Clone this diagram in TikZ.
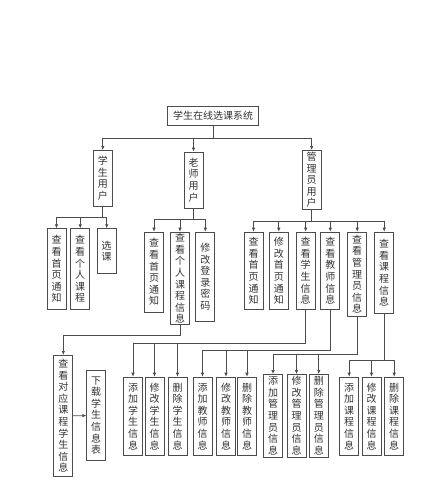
\documentclass[tikz,border=0pt]{standalone}
\usepackage{fontspec}
\setmainfont{Noto Sans CJK SC}
\XeTeXlinebreaklocale "zh"
\XeTeXlinebreakskip=0pt plus 1pt
\usetikzlibrary{arrows.meta}

\begin{document}
\begin{tikzpicture}[x=1pt,y=-1pt]
    \tikzstyle{titlebox}=[rectangle,draw=black!70,line width=0.7pt,text=black!80,font=\fontsize{10}{11.6}\selectfont,inner sep=0pt,minimum width=91pt,minimum height=19.5pt]
    \tikzstyle{itembox}=[rectangle,draw=black!70,line width=0.7pt,text=black!80,font=\fontsize{10}{11.6}\selectfont,text width=11pt,align=center,inner xsep=4pt,inner ysep=1.2pt,anchor=north]
    \tikzstyle{link}=[draw=black!70,line width=0.7pt,-{Latex[length=4pt,width=3.5pt]}]
    \useasboundingbox (0,0) rectangle (427,500);

    \node (sys)[titlebox] at (213,116) {学生在线选课系统};

    \node (stu)[itembox,minimum height=55.5pt] at (102.8,150) {学生用户};
    \node (tea)[itembox,minimum height=56pt] at (193.5,151.5) {老师用户};
    \node (adm)[itembox,minimum height=59.3pt] at (311.7,150) {管理员用户};

    \node (stuNotice)[itembox,minimum height=80.7pt] at (56.5,228.3) {查看首页通知};
    \node (stuCourse)[itembox,minimum height=80.7pt] at (80.2,228.3) {查看个人课程};
    \node (stuSelect)[itembox,minimum height=45pt] at (106.7,228.3) {选课};

    \node (teaNotice)[itembox,minimum height=80pt] at (154,231.7) {查看首页通知};
    \node (teaCourse)[itembox,minimum height=92.6pt] at (180,231.7) {查看个人课程信息};
    \node (teaPwd)[itembox,minimum height=89.3pt] at (205.3,231.7) {修改登录密码};

    \node (admNotice)[itembox,minimum height=77.6pt] at (253.5,231.7) {查看首页通知};
    \node (admEdit)[itembox,minimum height=77.6pt] at (278.8,231.7) {修改首页通知};
    \node (admStu)[itembox,minimum height=77.6pt] at (305.7,231.7) {查看学生信息};
    \node (admTea)[itembox,minimum height=77.6pt] at (330.3,231.7) {查看教师信息};
    \node (admAdm)[itembox,minimum height=84.3pt] at (357.2,231.7) {查看管理员信息};
    \node (admCourse)[itembox,minimum height=81.6pt] at (384.2,231.7) {查看课程信息};

    \node (listStu)[itembox,minimum height=121pt] at (63.3,355) {查看对应课程学生信息};
    \node (download)[itembox,minimum height=89.7pt,anchor=center] at (96.2,415.5) {下载学生信息表};

    \node (addStu)[itembox,minimum height=78.3pt] at (133,376.7) {添加学生信息};
    \node (modStu)[itembox,minimum height=78.3pt] at (154.5,376.7) {修改学生信息};
    \node (delStu)[itembox,minimum height=78.3pt] at (177.5,376.7) {删除学生信息};
    \node (addTea)[itembox,minimum height=78.3pt] at (202.5,376.7) {添加教师信息};
    \node (modTea)[itembox,minimum height=78.3pt] at (226,376.7) {修改教师信息};
    \node (delTea)[itembox,minimum height=78.3pt] at (247,376.7) {删除教师信息};
    \node (addAdm)[itembox,minimum height=82.7pt] at (273,374) {添加管理员信息};
    \node (modAdm)[itembox,minimum height=82.7pt] at (296.5,374) {修改管理员信息};
    \node (delAdm)[itembox,minimum height=82.7pt] at (318.8,374) {删除管理员信息};
    \node (addCrs)[itembox,minimum height=78.3pt] at (349.2,376.7) {添加课程信息};
    \node (modCrs)[itembox,minimum height=78.3pt] at (371.5,376.7) {修改课程信息};
    \node (delCrs)[itembox,minimum height=78.3pt] at (394.2,376.7) {删除课程信息};

    % system -> user roles
    \draw[link] (sys.south) -- ++(0,12) -| (stu.north);
    \draw[link] (sys.south) -- ++(0,12) -| (tea.north);
    \draw[link] (sys.south) -- ++(0,12) -| (adm.north);

    % student user
    \draw[link] (stu.south) -- ++(0,11) -| (stuNotice.north);
    \draw[link] (stu.south) -- ++(0,11) -| (stuCourse.north);
    \draw[link] (stu.south) -- ++(0,11) -| (stuSelect.north);

    % teacher user
    \draw[link] (tea.south) -- ++(0,11) -| (teaNotice.north);
    \draw[link] (tea.south) -- ++(0,11) -| (teaCourse.north);
    \draw[link] (tea.south) -- ++(0,11) -| (teaPwd.north);
    \draw[link] (teaCourse.south) -- ++(0,10) -| (listStu.north);
    \draw[link] (listStu) -- (download);

    % admin user
    \draw[link] (adm.south) -- ++(0,11.2) -| (admNotice.north);
    \draw[link] (adm.south) -- ++(0,11.2) -| (admEdit.north);
    \draw[link] (adm.south) -- ++(0,11.2) -| (admStu.north);
    \draw[link] (adm.south) -- ++(0,11.2) -| (admTea.north);
    \draw[link] (adm.south) -- ++(0,11.2) -| (admAdm.north);
    \draw[link] (adm.south) -- ++(0,11.2) -| (admCourse.north);

    \draw[link] (admStu.south) -- ++(0,33.4) -| (addStu.north);
    \draw[link] (admStu.south) -- ++(0,33.4) -| (modStu.north);
    \draw[link] (admStu.south) -- ++(0,33.4) -| (delStu.north);

    \draw[link] (admTea.south) -- ++(0,40) -| (addTea.north);
    \draw[link] (admTea.south) -- ++(0,40) -| (modTea.north);
    \draw[link] (admTea.south) -- ++(0,40) -| (delTea.north);

    \draw[link] (admAdm.south) -- ++(0,37.7) -| (addAdm.north);
    \draw[link] (admAdm.south) -- ++(0,37.7) -| (modAdm.north);
    \draw[link] (admAdm.south) -- ++(0,37.7) -| (delAdm.north);

    \draw[link] (admCourse.south) -- ++(0,46) -| (addCrs.north);
    \draw[link] (admCourse.south) -- ++(0,46) -| (modCrs.north);
    \draw[link] (admCourse.south) -- ++(0,46) -| (delCrs.north);
\end{tikzpicture}
\end{document}
